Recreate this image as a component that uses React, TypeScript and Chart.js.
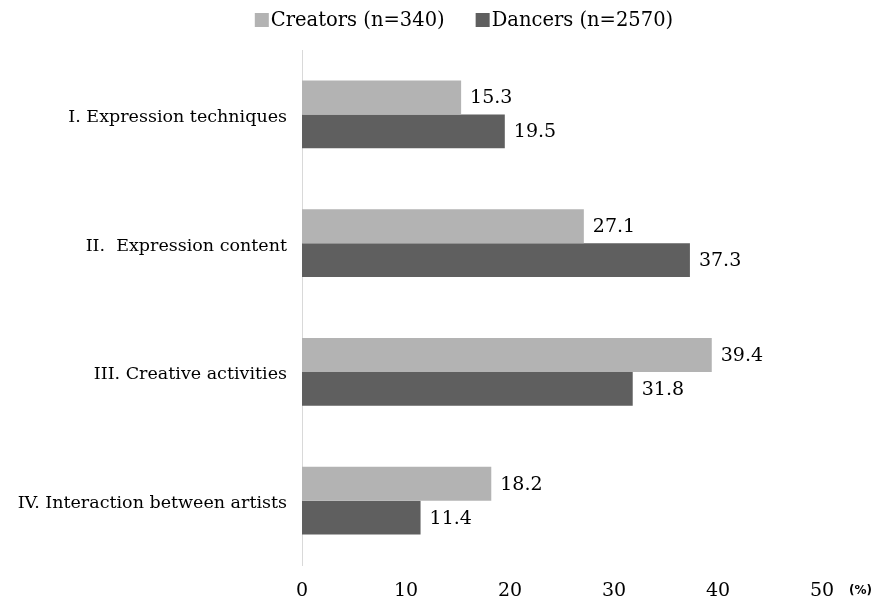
import React, { useEffect, useRef } from "react";
import { Chart, registerables } from "chart.js";

Chart.register(...registerables);

const categories = [
  "I. Expression techniques",
  "II.  Expression content",
  "III. Creative activities",
  "IV. Interaction between artists",
];
const seriesNames = ["Creators (n=340)", "Dancers (n=2570)"];
const creators = [15.3, 27.1, 39.4, 18.2];
const dancers = [19.5, 37.3, 31.8, 11.4];
const xTicks = [0, 10, 20, 30, 40, 50];
const unitLabel = "(%)";

const LIGHT = "#b3b3b3";
const DARK = "#5f5f5f";
const FONT = "'DejaVu Serif', serif";

const valueLabels = {
  id: "valueLabels",
  afterDatasetsDraw(chart: any) {
    const ctx = chart.ctx;
    ctx.save();
    ctx.font = `19px ${FONT}`;
    ctx.fillStyle = "#000";
    ctx.textAlign = "left";
    ctx.textBaseline = "middle";
    chart.data.datasets.forEach((ds: any, i: number) => {
      const meta = chart.getDatasetMeta(i);
      meta.data.forEach((bar: any, j: number) => {
        ctx.fillText(ds.data[j].toFixed(1), bar.x + 9, bar.y + 1);
      });
    });
    ctx.restore();
  },
};

const customLegend = {
  id: "customLegend",
  afterDraw(chart: any) {
    const ctx = chart.ctx;
    ctx.save();
    ctx.font = `19.5px ${FONT}`;
    ctx.textBaseline = "middle";
    ctx.textAlign = "left";
    const box = 14;
    const gapBoxText = 2;
    const gapItems = 31;
    const items = chart.data.datasets.map((ds: any) => ({
      label: ds.label,
      color: ds.backgroundColor,
      w: box + gapBoxText + ctx.measureText(ds.label).width,
    }));
    const total = items.reduce((s: number, it: any) => s + it.w, 0) + gapItems * (items.length - 1);
    let x = 464 - total / 2;
    const y = 20;
    items.forEach((it: any) => {
      ctx.fillStyle = it.color;
      ctx.fillRect(x, y - box / 2, box, box);
      ctx.fillStyle = "#000";
      ctx.fillText(it.label, x + box + gapBoxText, y + 1);
      x += it.w + gapItems;
    });
    // unit label after axis
    ctx.font = "bold 12px 'DejaVu Sans', sans-serif";
    ctx.fillText(unitLabel, 849, 591);
    ctx.restore();
  },
};

export default function App() {
  const ref = useRef<HTMLCanvasElement>(null);
  useEffect(() => {
    document.body.style.margin = "0";
    const chart = new Chart(ref.current!, {
      type: "bar",
      data: {
        labels: categories,
        datasets: [
          { label: seriesNames[0], data: creators, backgroundColor: LIGHT, categoryPercentage: 0.527, barPercentage: 1 },
          { label: seriesNames[1], data: dancers, backgroundColor: DARK, categoryPercentage: 0.527, barPercentage: 1 },
        ],
      },
      options: {
        indexAxis: "y",
        animation: false,
        responsive: false,
        devicePixelRatio: 1,
        layout: { padding: { top: 50, right: 58, left: 0, bottom: 0 } },
        plugins: {
          legend: { display: false },
          tooltip: { enabled: false },
        },
        scales: {
          x: {
            min: 0,
            max: 50,
            afterBuildTicks: (s: any) => {
              s.ticks = xTicks.map((v) => ({ value: v }));
            },
            afterFit: (s: any) => {
              s.height = 39;
            },
            grid: { display: false },
            border: { display: false },
            ticks: { color: "#000", font: { family: FONT, size: 19 }, padding: 7 },
          },
          y: {
            afterFit: (s: any) => {
              s.width = 302;
            },
            grid: { display: false },
            border: { display: true, color: "#d9d9d9", width: 1 },
            ticks: { color: "#000", font: { family: FONT, size: 17.5 }, padding: 7, labelOffset: 3 },
          },
        },
      },
      plugins: [valueLabels, customLegend],
    });
    return () => chart.destroy();
  }, []);
  return <canvas ref={ref} width={880} height={604} style={{ display: "block" }} />;
}
